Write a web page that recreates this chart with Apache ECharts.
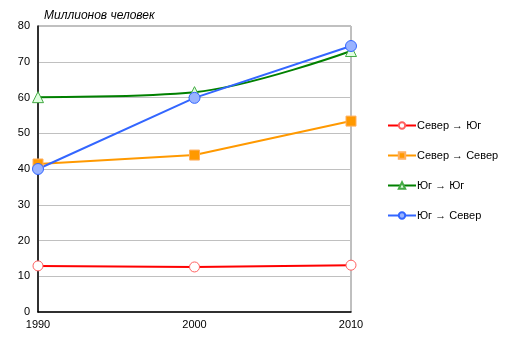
<!DOCTYPE html>
<html><head><meta charset="utf-8">
<script src="https://cdn.jsdelivr.net/npm/echarts@6/dist/echarts.min.js"></script>
<style>html,body{margin:0;padding:0;background:#fff}#c{width:514px;height:356px}</style>
</head><body><div id="c"></div>
<script>
const categories = ['1990', '2000', '2010'];
const northSouth = [12.9, 12.6, 13.1];
const northNorth = [41.4, 43.9, 53.4];
const southSouth = [60.1, 61.5, 73.0];
const southNorth = [40.0, 59.9, 74.4];
const yTicks = { min: 0, max: 80, interval: 10 };

const chart = echarts.init(document.getElementById('c'));
const font = 'Liberation Sans, Arial, sans-serif';
function s(name, data, color, symbol, fill, border, size, smooth) {
  return {
    name, type: 'line', data, smooth: smooth || false,
    symbol, symbolSize: size,
    lineStyle: { color, width: 2 },
    itemStyle: { color: fill, borderColor: border, borderWidth: 1 },
    emphasis: { disabled: true }
  };
}
chart.setOption({
  animation: false,
  textStyle: { fontFamily: font },
  title: { text: 'Миллионов человек', left: 39, top: 5,
    textStyle: { fontStyle: 'italic', fontWeight: 'normal', fontSize: 12, color: '#000', fontFamily: font } },
  grid: { left: 38, right: 163, top: 26, bottom: 44, show: true, borderColor: '#808080', borderWidth: 1 },
  legend: {
    orient: 'vertical', left: 382, top: 115, itemGap: 19, itemWidth: 28, itemHeight: 8,
    textStyle: { fontSize: 11, color: '#000', fontFamily: font, padding: [0,0,0,-4] },
    data: ['Север → Юг', 'Север → Север', 'Юг → Юг', 'Юг → Север']
  },
  xAxis: {
    type: 'category', data: categories, boundaryGap: false,
    axisLine: { lineStyle: { color: '#000', width: 1.5 } },
    axisTick: { show: false },
    axisLabel: { color: '#000', fontSize: 11, margin: 7 },
    splitLine: { show: false }
  },
  yAxis: {
    type: 'value', min: yTicks.min, max: yTicks.max, interval: yTicks.interval,
    axisLine: { show: true, lineStyle: { color: '#000', width: 1.5 } },
    axisTick: { show: false },
    axisLabel: { color: '#000', fontSize: 11, margin: 8 },
    splitLine: { lineStyle: { color: '#c0c0c0' } }
  },
  series: [
    s('Север → Юг', northSouth, '#ff0000', 'circle', '#ffffff', '#ff6060', 10),
    s('Север → Север', northNorth, '#ff9900', 'rect', '#ff9900', '#ffb060', 10),
    s('Юг → Юг', southSouth, '#008000', 'triangle', '#e0ffe0', '#44aa44', 11, 0.35),
    s('Юг → Север', southNorth, '#3366ff', 'circle', '#99b3ff', '#3366ff', 11)
  ]
});
</script></body></html>
